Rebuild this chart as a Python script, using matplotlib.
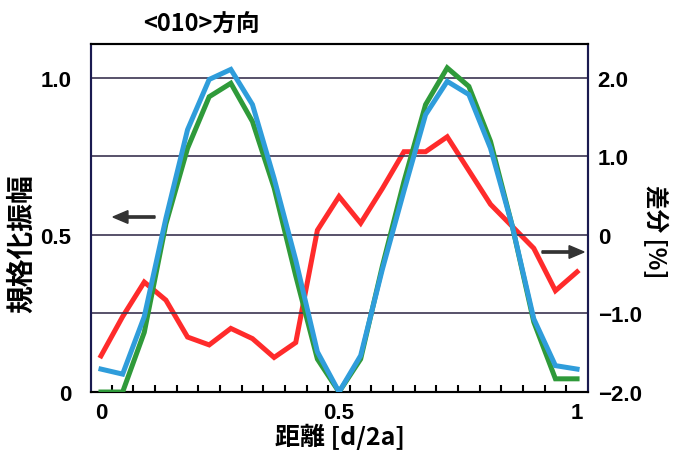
import numpy as np
import matplotlib
matplotlib.use('Agg')
import matplotlib.pyplot as plt
from matplotlib.patches import FancyArrow

plt.rcParams['font.family'] = ['Noto Sans CJK JP', 'DejaVu Sans']

# distance d/2a, 23 sample points
n_points = 23
green = [0.0, 0.0, 0.19, 0.535, 0.776, 0.94, 0.983, 0.861, 0.65, 0.37, 0.105, 0.0,
         0.105, 0.40, 0.67, 0.915, 1.032, 0.973, 0.798, 0.53, 0.223, 0.042, 0.042]
blue = [0.073, 0.057, 0.24, 0.553, 0.835, 0.995, 1.027, 0.915, 0.68, 0.42, 0.128, 0.0,
        0.116, 0.39, 0.64, 0.883, 0.989, 0.947, 0.776, 0.53, 0.233, 0.084, 0.073]
red = [-1.54, -1.04, -0.60, -0.83, -1.30, -1.40, -1.19, -1.32, -1.56, -1.37, 0.06, 0.49,
       0.15, 0.59, 1.06, 1.06, 1.25, 0.82, 0.39, 0.11, -0.17, -0.71, -0.47]

x = np.arange(n_points) / (n_points - 1)

fig = plt.figure(figsize=(6.79, 4.52), dpi=100)
ax = fig.add_axes([0.134, 0.1305, 0.732, 0.770])
ax2 = ax.twinx()

grid_c = '#3b3350'
for yv in [0.25, 0.5, 0.75, 1.0]:
    ax.axhline(yv, color=grid_c, lw=1.2, zorder=1)

ax.plot(x, green, color='#2f9a3a', lw=3.6, zorder=3, solid_joinstyle='miter')
ax.plot(x, blue, color='#2f9ddb', lw=3.6, zorder=4, solid_joinstyle='miter')
ax2.plot(x, red, color='#ff2b2b', lw=3.6, zorder=5, solid_joinstyle='miter')

ax.set_xlim(-0.021, 1.023)
ax.set_ylim(0, 1.108)
ax2.set_ylim(-2, 2.432)

ax.set_xticks([0, 0.5, 1])
ax.set_xticklabels(['0', '0.5', '1'])
ax.set_xticks((np.arange(22) + 0.5) / 22, minor=True)
ax.tick_params(axis='x', which='major', length=0, pad=7, labelsize=16)
ax.tick_params(axis='x', which='minor', direction='in', length=5, width=1.5, color='black')

ax.set_yticks([0, 0.5, 1.0])
ax.set_yticklabels(['0', '0.5', '1.0'])
ax.tick_params(axis='y', length=0, pad=14, labelsize=16)

ax2.set_yticks([-2, -1, 0, 1, 2])
ax2.set_yticklabels(['\u22122.0', '\u22121.0', '0', '1.0', '2.0'])
ax2.tick_params(axis='y', length=0, pad=7, labelsize=16)

for lab in ax.get_xticklabels() + ax.get_yticklabels() + ax2.get_yticklabels():
    lab.set_family(['Liberation Sans', 'DejaVu Sans'])
    lab.set_fontweight('bold')

for a in (ax, ax2):
    a.spines['left'].set_color('#1a1a50')
    a.spines['right'].set_color('#1a1a50')
    a.spines['top'].set_color('black')
    a.spines['bottom'].set_color('black')
    for s in a.spines.values():
        s.set_linewidth(1.5)

ax.set_zorder(ax2.get_zorder() + 1)
ax.patch.set_visible(False)

fig.text(0.296, 0.945, '<010>方向', fontsize=17, fontweight='bold', ha='center', va='center')
fig.text(0.032, 0.462, '規格化振幅', fontsize=20, fontweight='bold', rotation=90,
         ha='center', va='center')
fig.text(0.965, 0.487, '差分 [%]', fontsize=17, fontweight='bold', rotation=-90,
         ha='center', va='center')
fig.text(0.5, 0.033, '距離 [d/2a]', fontsize=18, fontweight='bold', ha='center', va='center')

arrow_c = '#333333'
fig.patches.append(FancyArrow(155 / 679, 1 - 218 / 452, -42 / 679, 0,
                   width=0.005, head_width=0.028, head_length=0.022, color=arrow_c,
                   length_includes_head=True, transform=fig.transFigure))
fig.patches.append(FancyArrow(542 / 679, 1 - 253 / 452, 42 / 679, 0,
                   width=0.005, head_width=0.028, head_length=0.022, color=arrow_c,
                   length_includes_head=True, transform=fig.transFigure))

fig.savefig('out.png', dpi=100)
